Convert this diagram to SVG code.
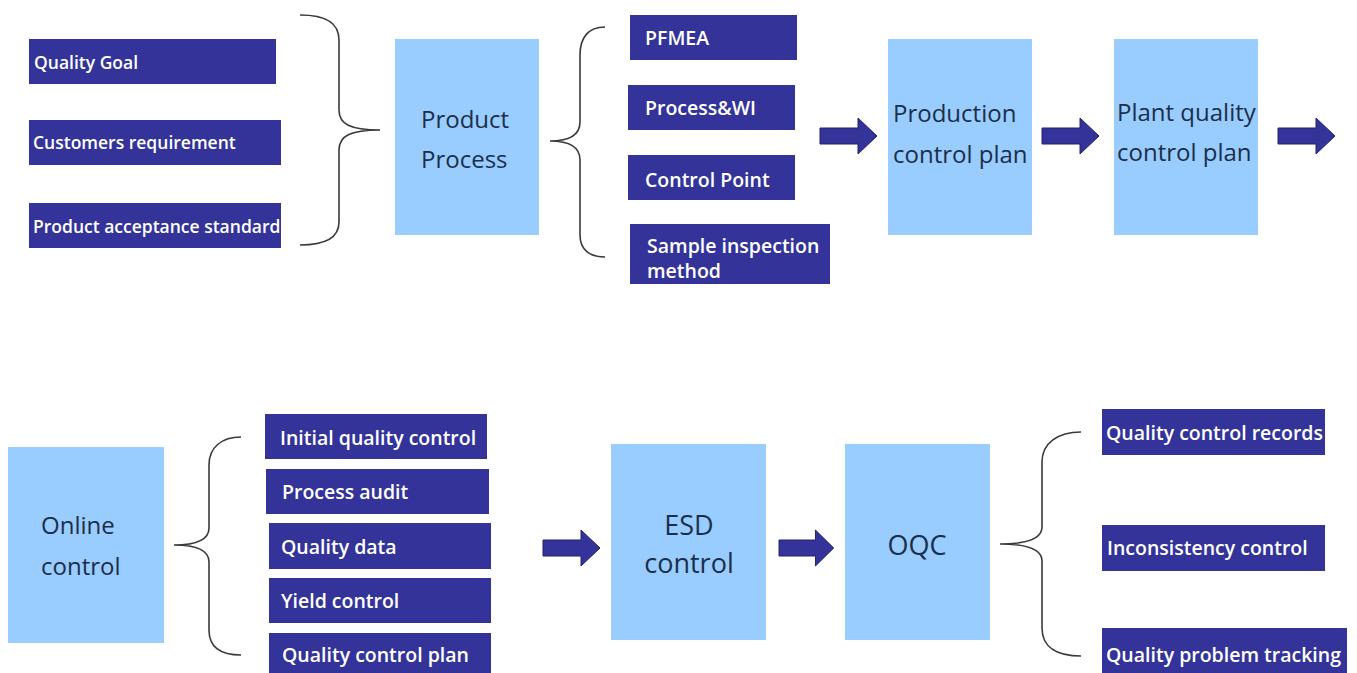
<svg xmlns="http://www.w3.org/2000/svg" xmlns:xlink="http://www.w3.org/1999/xlink" width="1357" height="673" viewBox="0 0 1357 673">
<style>
.dk{fill:#333399;}
.lt{fill:#99ccff;}
.st{font-family:"Open Sans","Noto Sans",sans-serif;font-weight:600;font-size:19.5px;fill:#ffffff;}
.ss{font-size:17.5px;}
.bt{font-family:"Open Sans","Noto Sans",sans-serif;font-weight:400;font-size:24px;fill:#1c2f4a;}
.bl{font-size:27px;}
.br{fill:none;stroke:#3a3a3a;stroke-width:1.6;}
.ar{fill:#333399;stroke:#22226e;stroke-width:1;}
</style>
<defs>
<path id="arr" d="M0,-8 L38,-8 L38,-18 L57,0 L38,18 L38,8 L0,8 Z"/>
</defs>
<rect width="1357" height="673" fill="#ffffff"/>

<g id="quality-goal"><rect class="dk" x="29" y="39" width="247" height="45"/><text class="st ss" x="34" y="69">Quality Goal</text></g>
<g id="customers-requirement"><rect class="dk" x="29" y="120" width="252" height="45"/><text class="st ss" x="33" y="149">Customers requirement</text></g>
<g id="product-acceptance-standard"><rect class="dk" x="29" y="203" width="252" height="45"/><text class="st ss" x="33" y="233">Product acceptance standard</text></g>

<g id="product-process"><rect class="lt" x="395" y="39" width="144" height="196"/><text class="bt" x="421" y="128">Product</text><text class="bt" x="421" y="168">Process</text></g>

<g id="pfmea"><rect class="dk" x="630" y="15" width="167" height="45"/><text class="st" x="645" y="45">PFMEA</text></g>
<g id="process-wi"><rect class="dk" x="628" y="85" width="167" height="45"/><text class="st" x="645" y="115">Process&amp;WI</text></g>
<g id="control-point"><rect class="dk" x="628" y="155" width="167" height="45"/><text class="st" x="645" y="187">Control Point</text></g>
<g id="sample-inspection-method"><rect class="dk" x="630" y="224" width="200" height="60"/><text class="st" x="647" y="253">Sample inspection</text><text class="st" x="647" y="278">method</text></g>

<g id="production-control-plan"><rect class="lt" x="888" y="39" width="144" height="196"/><text class="bt" x="893" y="122">Production</text><text class="bt" x="893" y="163">control plan</text></g>
<g id="plant-quality-control-plan"><rect class="lt" x="1114" y="39" width="144" height="196"/><text class="bt" x="1117" y="121">Plant quality</text><text class="bt" x="1117" y="161">control plan</text></g>

<g id="online-control"><rect class="lt" x="8" y="447" width="156" height="196"/><text class="bt" x="41" y="534">Online</text><text class="bt" x="41" y="575">control</text></g>

<g id="initial-quality-control"><rect class="dk" x="265" y="414" width="222" height="45"/><text class="st" x="280" y="445">Initial quality control</text></g>
<g id="process-audit"><rect class="dk" x="266" y="469" width="223" height="45"/><text class="st" x="282" y="499">Process audit</text></g>
<g id="quality-data"><rect class="dk" x="269" y="523" width="222" height="46"/><text class="st" x="281" y="554">Quality data</text></g>
<g id="yield-control"><rect class="dk" x="269" y="578" width="222" height="45"/><text class="st" x="281" y="608">Yield control</text></g>
<g id="quality-control-plan"><rect class="dk" x="269" y="633" width="222" height="45"/><text class="st" x="282" y="662">Quality control plan</text></g>

<g id="esd-control"><rect class="lt" x="611" y="444" width="155" height="196"/><text class="bt bl" x="689" y="535" text-anchor="middle">ESD</text><text class="bt bl" x="689" y="573" text-anchor="middle">control</text></g>
<g id="oqc"><rect class="lt" x="845" y="444" width="145" height="196"/><text class="bt bl" x="917" y="555" text-anchor="middle">OQC</text></g>

<g id="quality-control-records"><rect class="dk" x="1102" y="409" width="223" height="46"/><text class="st" x="1106" y="440">Quality control records</text></g>
<g id="inconsistency-control"><rect class="dk" x="1102" y="525" width="223" height="46"/><text class="st" x="1107" y="555">Inconsistency control</text></g>
<g id="quality-problem-tracking"><rect class="dk" x="1102" y="628" width="245" height="50"/><text class="st" x="1106" y="662">Quality problem tracking</text></g>

<g id="connectors">
<path class="br" d="M300,15 C325,15 339,22 339,40 L339,110 C339,124 350,130 380,130 C350,130 339,136 339,150 L339,222 C339,238 325,245 300,245"/>
<path class="br" d="M605,27 C588,27 580,38 580,55 L580,122 C580,135 570,141 550,141 C570,141 580,147 580,160 L580,235 C580,250 590,257 605,257"/>
<path class="br" d="M241,437 C222,437 209,447 209,465 L209,528 C209,540 195,545 174,545 C195,545 209,550 209,562 L209,630 C209,648 222,655 241,655"/>
<path class="br" d="M1081,432 C1058,432 1042,443 1042,462 L1042,527 C1042,539 1025,544 1000,544 C1025,544 1042,549 1042,561 L1042,628 C1042,648 1058,656 1081,656"/>
<use xlink:href="#arr" class="ar" transform="translate(820,136)"/>
<use xlink:href="#arr" class="ar" transform="translate(1042,136)"/>
<use xlink:href="#arr" class="ar" transform="translate(1278,136)"/>
<use xlink:href="#arr" class="ar" transform="translate(543,548)"/>
<use xlink:href="#arr" class="ar" transform="translate(779,548) scale(0.96,1)"/>
</g>
</svg>
